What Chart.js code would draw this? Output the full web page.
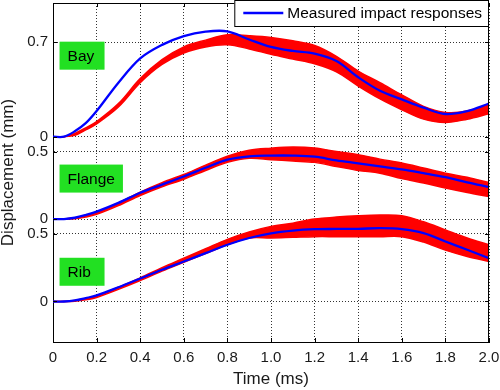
<!DOCTYPE html>
<html lang="en">
<head>
<meta charset="UTF-8">
<title>Measured impact responses</title>
<script src="https://cdn.jsdelivr.net/npm/chart.js@4.4.0/dist/chart.umd.min.js"></script>
<style>
  html, body { margin: 0; padding: 0; background: #fff; }
  #wrap { width: 500px; height: 390px; }
</style>
</head>
<body>
<div id="wrap"><canvas id="chart" width="500" height="390"></canvas></div>
<script>
// time (ms)
const times = [0, 0.05, 0.1, 0.15, 0.2, 0.3, 0.4, 0.5, 0.6, 0.7, 0.8, 0.9, 1.0, 1.1, 1.2, 1.3, 1.4, 1.5, 1.6, 1.7, 1.8, 1.9, 2.0];

// Bay (mm)
const bayMeasured = [0, 0, 0.04, 0.10, 0.19, 0.40, 0.58, 0.68, 0.745, 0.778, 0.78, 0.72, 0.665, 0.635, 0.615, 0.56, 0.44, 0.34, 0.276, 0.215, 0.168, 0.19, 0.245];
const bayLow  = [0, 0, 0.01, 0.05, 0.095, 0.22, 0.40, 0.535, 0.62, 0.665, 0.68, 0.65, 0.61, 0.575, 0.54, 0.48, 0.375, 0.28, 0.20, 0.13, 0.105, 0.13, 0.17];
const bayHigh = [0, 0, 0.025, 0.065, 0.112, 0.245, 0.43, 0.57, 0.665, 0.715, 0.755, 0.748, 0.735, 0.71, 0.675, 0.595, 0.486, 0.40, 0.31, 0.225, 0.18, 0.19, 0.24];

// Flange (mm)
const flangeMeasured = [0, 0, 0.01, 0.03, 0.055, 0.12, 0.195, 0.255, 0.315, 0.38, 0.44, 0.465, 0.47, 0.47, 0.462, 0.435, 0.413, 0.39, 0.368, 0.34, 0.31, 0.272, 0.237];
const flangeLow  = [0, 0, 0.003, 0.015, 0.035, 0.10, 0.175, 0.24, 0.295, 0.36, 0.42, 0.45, 0.44, 0.43, 0.42, 0.39, 0.36, 0.34, 0.30, 0.267, 0.23, 0.197, 0.167];
const flangeHigh = [0, 0, 0.01, 0.025, 0.05, 0.12, 0.20, 0.27, 0.33, 0.40, 0.465, 0.51, 0.525, 0.533, 0.526, 0.50, 0.476, 0.444, 0.415, 0.378, 0.34, 0.31, 0.27];

// Rib (mm)
const ribMeasured = [0, 0, 0.008, 0.025, 0.045, 0.105, 0.17, 0.235, 0.296, 0.358, 0.42, 0.47, 0.505, 0.525, 0.535, 0.537, 0.538, 0.543, 0.536, 0.506, 0.444, 0.383, 0.32];
const ribLow  = [0, 0, 0.002, 0.012, 0.03, 0.09, 0.155, 0.225, 0.29, 0.355, 0.42, 0.47, 0.47, 0.475, 0.48, 0.48, 0.48, 0.48, 0.48, 0.44, 0.38, 0.333, 0.296];
const ribHigh = [0, 0, 0.008, 0.022, 0.042, 0.105, 0.175, 0.25, 0.32, 0.39, 0.46, 0.515, 0.556, 0.58, 0.61, 0.625, 0.635, 0.64, 0.635, 0.59, 0.53, 0.47, 0.42];

const xTickValues = [0, 0.2, 0.4, 0.6, 0.8, 1.0, 1.2, 1.4, 1.6, 1.8, 2.0];
const xTickLabels = ['0', '0.2', '0.4', '0.6', '0.8', '1.0', '1.2', '1.4', '1.6', '1.8', '2.0'];
const panelNames = ['Bay', 'Flange', 'Rib'];
const panelTicks = [[0, 0.7], [0, 0.5], [0, 0.5]];
const panelTickLabels = [['0', '0.7'], ['0', '0.5'], ['0', '0.5']];
const legendLabel = 'Measured impact responses';

// each panel is shifted up on one shared mm axis
const offsets = [1.22, 0.61, 0];
const labelCenters = [0.60, 0.30, 0.22];   // where the green name box sits, in panel mm
const measured = [bayMeasured, flangeMeasured, ribMeasured];
const lows = [bayLow, flangeLow, ribLow];
const highs = [bayHigh, flangeHigh, ribHigh];

const FONT = '"Liberation Sans", Arial, Helvetica, sans-serif';

function pts(vals, off) {
    return times.map((t, i) => ({ x: t, y: vals[i] + off }));
}

const datasets = [];
measured.forEach((vals, p) => {
    datasets.push({
        data: pts(vals, offsets[p]),
        borderColor: '#0000ff',
        borderWidth: 2.3,
        fill: false,
        order: 0
    });
});
lows.forEach((vals, p) => {
    datasets.push({
        data: pts(highs[p], offsets[p]),
        borderColor: '#ff0000',
        borderWidth: 1.5,
        fill: false,
        order: 1
    });
    datasets.push({
        data: pts(vals, offsets[p]),
        borderColor: '#ff0000',
        backgroundColor: '#ff0000',
        borderWidth: 1.5,
        fill: '-1',
        order: 1
    });
});

const yTickValues = [];
const yTickLabels = [];
panelTicks.forEach((tks, p) => {
    tks.forEach((v, k) => {
        yTickValues.push(v + offsets[p]);
        yTickLabels.push(panelTickLabels[p][k]);
    });
});
const yOrder = yTickValues.map((v, i) => i).sort((a, b) => yTickValues[a] - yTickValues[b]);

// frame, inward ticks, name boxes and legend
const overlay = {
    id: 'overlay',
    afterDraw(chart) {
        const { ctx, chartArea: a, scales: { x, y } } = chart;
        ctx.save();
        ctx.strokeStyle = '#000';
        ctx.lineWidth = 1;
        ctx.beginPath();
        ctx.moveTo(a.left, a.top + 0.5);
        ctx.lineTo(a.right - 0.5, a.top + 0.5);
        ctx.lineTo(a.right - 0.5, a.bottom);
        ctx.stroke();

        ctx.beginPath();
        xTickValues.forEach(v => {
            const px = Math.round(x.getPixelForValue(v)) + 0.5;
            ctx.moveTo(px, a.bottom); ctx.lineTo(px, a.bottom - 4);
            ctx.moveTo(px, a.top); ctx.lineTo(px, a.top + 4);
        });
        yTickValues.forEach(v => {
            const py = Math.round(y.getPixelForValue(v)) + 0.5;
            ctx.moveTo(a.left, py); ctx.lineTo(a.left + 4, py);
            ctx.moveTo(a.right, py); ctx.lineTo(a.right - 4, py);
        });
        ctx.stroke();

        // green name boxes
        ctx.font = '15.5px ' + FONT;
        ctx.textBaseline = 'middle';
        panelNames.forEach((name, p) => {
            const cy = y.getPixelForValue(labelCenters[p] + offsets[p]);
            const left = x.getPixelForValue(0.03);
            const w = Math.max(45, ctx.measureText(name).width + 16);
            ctx.fillStyle = '#22e022';
            ctx.fillRect(left, cy - 14, w, 28);
            ctx.fillStyle = '#000';
            ctx.fillText(name, left + 8, cy + 1);
        });

        // legend box in the top right corner
        ctx.font = '15.5px ' + FONT;
        const tw = ctx.measureText(legendLabel).width;
        const bw = tw + 59;
        const bx = a.right - 1 - bw;
        ctx.fillStyle = '#fff';
        ctx.fillRect(bx, 0, bw, 26);
        ctx.strokeStyle = '#000';
        ctx.lineWidth = 1;
        ctx.strokeRect(bx + 0.5, 0.5, bw, 26);
        ctx.strokeStyle = '#0000ff';
        ctx.lineWidth = 2.3;
        ctx.beginPath();
        ctx.moveTo(bx + 9, 13);
        ctx.lineTo(bx + 49, 13);
        ctx.stroke();
        ctx.fillStyle = '#000';
        ctx.fillText(legendLabel, bx + 53, 14);
        ctx.restore();
    }
};

new Chart(document.getElementById('chart'), {
    type: 'line',
    data: { datasets: datasets },
    plugins: [overlay],
    options: {
        responsive: false,
        animation: false,
        devicePixelRatio: 1,
        layout: { padding: { top: 3, right: 11, left: 0, bottom: 0 } },
        elements: {
            point: { radius: 0 },
            line: { tension: 0.35 }
        },
        plugins: {
            legend: { display: false },
            tooltip: { enabled: false }
        },
        scales: {
            x: {
                type: 'linear',
                min: 0,
                max: 2,
                afterBuildTicks: axis => { axis.ticks = xTickValues.map(v => ({ value: v })); },
                afterFit: axis => {
                    axis.height = 48;
                    axis.paddingLeft = 0;
                    axis.paddingRight = 0;
                },
                ticks: {
                    autoSkip: false,
                    maxRotation: 0,
                    padding: 7,
                    color: '#1a1a1a',
                    font: { family: FONT, size: 15 },
                    callback: (v, i) => xTickLabels[i]
                },
                grid: { color: '#333', lineWidth: 1, drawTicks: false, tickLength: 0 },
                border: { display: true, color: '#000', width: 1, dash: [1, 2] },
                title: {
                    display: true,
                    text: 'Time (ms)',
                    color: '#1a1a1a',
                    font: { family: FONT, size: 17 },
                    padding: { top: 0, bottom: 0 }
                }
            },
            y: {
                type: 'linear',
                min: -0.3,
                max: 2.21,
                afterBuildTicks: axis => { axis.ticks = yOrder.map(i => ({ value: yTickValues[i] })); },
                afterFit: axis => {
                    axis.width = 53;
                    axis.paddingTop = 0;
                    axis.paddingBottom = 0;
                },
                ticks: {
                    autoSkip: false,
                    padding: 5,
                    color: '#1a1a1a',
                    font: { family: FONT, size: 15 },
                    callback: (v, i) => yTickLabels[yOrder[i]]
                },
                grid: { color: '#333', lineWidth: 1, drawTicks: false, tickLength: 0 },
                border: { display: true, color: '#000', width: 1, dash: [1, 2] },
                title: {
                    display: true,
                    text: 'Displacement (mm)',
                    color: '#1a1a1a',
                    font: { family: FONT, size: 17, lineHeight: 1.0 },
                    padding: { top: 0, bottom: 0 }
                }
            }
        }
    }
});
</script>
</body>
</html>
